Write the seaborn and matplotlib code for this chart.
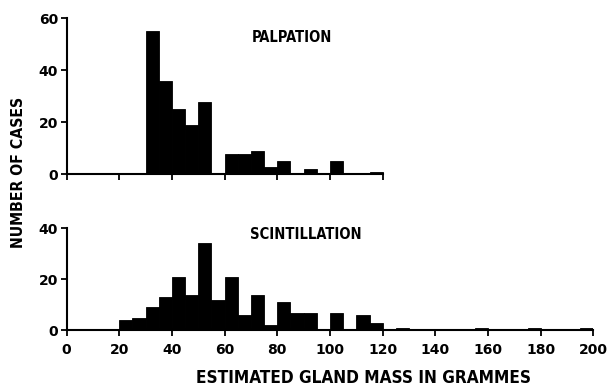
import numpy as np
import pandas as pd
import matplotlib
matplotlib.use("Agg")
import matplotlib.pyplot as plt
import seaborn as sns

sns.set_theme(style="white")
plt.rcParams['font.family'] = ['DejaVu Sans']
plt.rcParams['text.color'] = 'black'

# Palpation histogram (5 g bins, left edges)
palp_left = [30, 35, 40, 45, 50, 55, 60, 65, 70, 75, 80, 85, 90, 95, 100, 105, 110, 115]
palp_count = [55, 36, 25, 19, 28, 0, 8, 8, 9, 3, 5, 0, 2, 0, 5, 0, 0, 1]

# Scintillation histogram (5 g bins, left edges)
scin_left = [20, 25, 30, 35, 40, 45, 50, 55, 60, 65, 70, 75, 80, 85, 90, 95, 100, 105,
             110, 115, 120, 125, 155, 175, 195]
scin_count = [4, 5, 9, 13, 21, 14, 34, 12, 21, 6, 14, 2, 11, 7, 7, 0, 7, 0,
              6, 3, 0, 1, 1, 1, 1]

xticks = [0, 20, 40, 60, 80, 100, 120, 140, 160, 180, 200]
title_top = "PALPATION"
title_bot = "SCINTILLATION"
xlabel = "ESTIMATED GLAND MASS IN GRAMMES"
ylabel = "NUMBER OF CASES"

BW = 5
fig = plt.figure(figsize=(6.12, 3.86), dpi=100)
ax1 = fig.add_axes([0.1087, 0.548, 0.861, 0.4047])
ax2 = fig.add_axes([0.1087, 0.1438, 0.861, 0.2655])

fp = dict(family='DejaVu Sans', weight='bold', color='black', stretch='condensed')

def draw(ax, left, count, xmax, ymax, yticks, show_labels):
    df = pd.DataFrame({"x": [l + BW / 2 for l in left], "w": count})
    edges = [float(e) for e in range(min(left), max(left) + BW + 1, BW)]
    sns.histplot(data=df, x="x", weights="w", bins=edges, ax=ax,
                 color="black", alpha=1, edgecolor="black", linewidth=0.6)
    ax.set_xlim(0, 200)
    ax.set_ylim(0, ymax)
    ax.set_yticks(yticks)
    ax.set_xticks([t for t in xticks if t <= xmax])
    for s in ["top", "right"]:
        ax.spines[s].set_visible(False)
    for s in ["left", "bottom"]:
        ax.spines[s].set_linewidth(1.5)
        ax.spines[s].set_color("black")
    ax.spines["bottom"].set_bounds(0, xmax)
    ax.tick_params(axis="both", direction="out", length=4, width=1.3, colors="black",
                   labelsize=10, bottom=True, left=True)
    ax.tick_params(axis="x", pad=5)
    ax.tick_params(axis="y", pad=2)
    ax.set_xlabel("")
    ax.set_ylabel("")
    for lab in ax.get_yticklabels() + ax.get_xticklabels():
        lab.set_fontweight("bold")
        lab.set_color("black")
    if not show_labels:
        ax.set_xticklabels([])

draw(ax1, palp_left, palp_count, 120, 60, [0, 20, 40, 60], False)
draw(ax2, scin_left, scin_count, 200, 40, [0, 20, 40], True)

ax1.text(70.4, 52.5, title_top, fontsize=10.5, va="center", ha="left", **fp)
ax2.text(69.6, 37.3, title_bot, fontsize=10.5, va="center", ha="left", **fp)

fig.text(364 / 612, 1 - 378 / 386, xlabel, fontsize=12.3, ha="center", va="center", **fp)
fig.text(19 / 612, 1 - 172 / 386, ylabel, fontsize=11.3, ha="center", va="center",
         rotation=90, **fp)

fig.savefig("out.png", dpi=100)
